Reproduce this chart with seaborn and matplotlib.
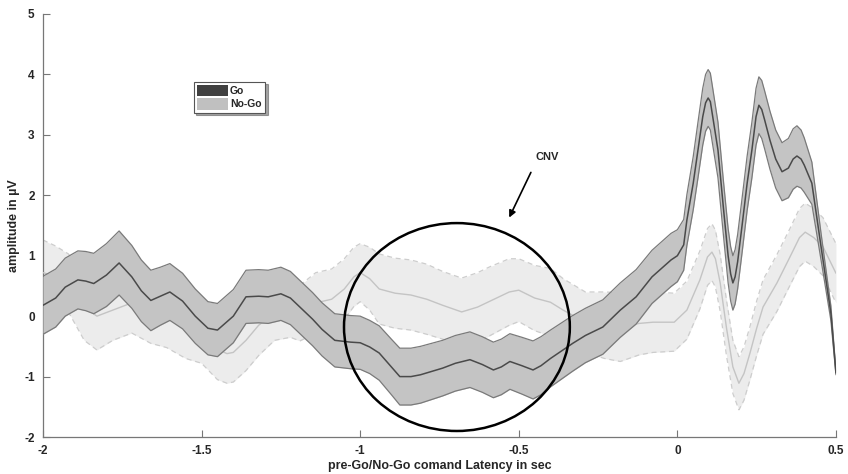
import numpy as np
import pandas as pd
import matplotlib
matplotlib.use("Agg")
import matplotlib.pyplot as plt
from matplotlib.patches import Ellipse, Patch
import seaborn as sns

# Go condition: latency (s), mean amplitude (µV), half-width of the error band
go_time = [-2.00, -1.96, -1.93, -1.89, -1.865, -1.84, -1.80, -1.76, -1.72, -1.69,
           -1.66, -1.63, -1.60, -1.56, -1.52, -1.48, -1.45, -1.40, -1.36, -1.32,
           -1.29, -1.25, -1.22, -1.19, -1.15, -1.12, -1.08, -1.03, -1.00, -0.97,
           -0.94, -0.90, -0.875, -0.84, -0.81, -0.74, -0.70, -0.654, -0.615, -0.58,
           -0.555, -0.528, -0.49, -0.455, -0.43, -0.40, -0.33, -0.29, -0.235, -0.18,
           -0.13, -0.08, -0.02, 0.00, 0.02, 0.03, 0.05, 0.065, 0.08, 0.089,
           0.097, 0.104, 0.11, 0.128, 0.145, 0.16, 0.168, 0.175, 0.182, 0.19,
           0.204, 0.22, 0.235, 0.248, 0.257, 0.266, 0.275, 0.292, 0.31, 0.33,
           0.35, 0.365, 0.377, 0.39, 0.40, 0.424, 0.453, 0.484, 0.50]
go_mean = [0.18, 0.30, 0.48, 0.60, 0.58, 0.54, 0.68, 0.88, 0.65, 0.42,
           0.26, 0.33, 0.40, 0.25, 0.00, -0.20, -0.23, 0.00, 0.32, 0.33,
           0.32, 0.37, 0.30, 0.15, -0.05, -0.22, -0.40, -0.43, -0.44, -0.51,
           -0.61, -0.85, -1.00, -1.00, -0.97, -0.86, -0.78, -0.72, -0.80, -0.89,
           -0.84, -0.75, -0.82, -0.89, -0.82, -0.70, -0.45, -0.32, -0.18, 0.10,
           0.32, 0.65, 0.93, 1.00, 1.18, 1.59, 2.20, 2.75, 3.30, 3.53,
           3.61, 3.55, 3.35, 2.75, 1.80, 1.00, 0.70, 0.55, 0.65, 0.90,
           1.50, 2.20, 2.75, 3.30, 3.49, 3.42, 3.25, 2.91, 2.60, 2.39,
           2.45, 2.60, 2.65, 2.60, 2.50, 2.20, 1.15, 0.05, -0.94]
go_err = [0.48, 0.48, 0.48, 0.48, 0.49, 0.50, 0.52, 0.53, 0.52, 0.51,
          0.50, 0.48, 0.47, 0.46, 0.45, 0.44, 0.44, 0.44, 0.44, 0.44,
          0.44, 0.44, 0.44, 0.44, 0.44, 0.44, 0.44, 0.44, 0.44, 0.44,
          0.45, 0.46, 0.47, 0.47, 0.47, 0.46, 0.46, 0.46, 0.46, 0.46,
          0.46, 0.46, 0.47, 0.48, 0.48, 0.47, 0.46, 0.45, 0.45, 0.45,
          0.45, 0.44, 0.44, 0.43, 0.42, 0.42, 0.44, 0.46, 0.47, 0.47,
          0.47, 0.47, 0.47, 0.46, 0.45, 0.45, 0.45, 0.45, 0.45, 0.45,
          0.45, 0.45, 0.46, 0.47, 0.47, 0.48, 0.48, 0.48, 0.48, 0.48,
          0.49, 0.50, 0.50, 0.48, 0.45, 0.35, 0.22, 0.12, 0.03]

# No-Go condition
nogo_time = [-2.00, -1.96, -1.92, -1.87, -1.83, -1.78, -1.72, -1.66, -1.61, -1.55,
             -1.50, -1.45, -1.42, -1.40, -1.36, -1.32, -1.27, -1.22, -1.19, -1.14,
             -1.09, -1.05, -1.02, -1.00, -0.97, -0.94, -0.89, -0.84, -0.79, -0.74,
             -0.68, -0.63, -0.59, -0.53, -0.50, -0.45, -0.40, -0.36, -0.29, -0.23,
             -0.18, -0.12, -0.077, -0.01, 0.03, 0.071, 0.095, 0.109, 0.12, 0.135,
             0.155, 0.175, 0.194, 0.21, 0.229, 0.25, 0.27, 0.314, 0.355, 0.385,
             0.403, 0.43, 0.459, 0.50]
nogo_mean = [0.72, 0.66, 0.55, 0.15, 0.00, 0.10, 0.22, 0.10, -0.02, -0.15,
             -0.25, -0.55, -0.62, -0.60, -0.40, -0.15, 0.05, 0.10, 0.05, 0.22,
             0.28, 0.45, 0.65, 0.72, 0.62, 0.45, 0.38, 0.35, 0.28, 0.18,
             0.07, 0.15, 0.25, 0.40, 0.43, 0.30, 0.23, 0.10, -0.10, -0.15,
             -0.18, -0.12, -0.10, -0.10, 0.10, 0.60, 0.98, 1.06, 0.95, 0.55,
             -0.20, -0.84, -1.11, -0.95, -0.61, -0.20, 0.15, 0.55, 0.98, 1.30,
             1.39, 1.30, 1.15, 0.71]
nogo_err = [0.54, 0.50, 0.48, 0.55, 0.56, 0.50, 0.50, 0.55, 0.50, 0.55,
            0.53, 0.50, 0.49, 0.49, 0.50, 0.50, 0.45, 0.45, 0.46, 0.50,
            0.50, 0.50, 0.49, 0.48, 0.52, 0.58, 0.58, 0.58, 0.58, 0.56,
            0.56, 0.57, 0.57, 0.55, 0.52, 0.54, 0.56, 0.52, 0.50, 0.55,
            0.57, 0.52, 0.50, 0.48, 0.48, 0.48, 0.47, 0.47, 0.47, 0.47,
            0.46, 0.44, 0.44, 0.44, 0.44, 0.45, 0.45, 0.47, 0.47, 0.48,
            0.48, 0.48, 0.48, 0.49]

x_ticks = [-2, -1.5, -1, -0.5, 0, 0.5]
x_tick_labels = ["-2", "-1.5", "-1", "-0.5", "0", "0.5"]
y_ticks = [-2, -1, 0, 1, 2, 3, 4, 5]
y_tick_labels = ["-2", "-1", "0", "1", "2", "3", "4", "5"]

go = pd.DataFrame({"t": go_time, "amp": go_mean, "err": go_err})
nogo = pd.DataFrame({"t": nogo_time, "amp": nogo_mean, "err": nogo_err})

sns.set_theme(style="ticks")
plt.rcParams["font.family"] = ["Liberation Sans", "DejaVu Sans"]
plt.rcParams["font.weight"] = "bold"
plt.rcParams["axes.unicode_minus"] = False
plt.rcParams["lines.solid_joinstyle"] = "round"
plt.rcParams["lines.dash_joinstyle"] = "round"

fig = plt.figure(figsize=(8.48, 4.74), dpi=100)
ax = fig.add_axes([0.0507, 0.078, 0.9351, 0.8925])

# No-Go band (light, dashed edges) drawn underneath
ax.fill_between(nogo["t"], nogo["amp"] - nogo["err"], nogo["amp"] + nogo["err"],
                color="#ececec", lw=0, zorder=1)
ax.plot(nogo["t"], nogo["amp"] + nogo["err"], color="#cdcdcd", lw=0.9, ls=(0, (4, 3)), zorder=2)
ax.plot(nogo["t"], nogo["amp"] - nogo["err"], color="#cdcdcd", lw=0.9, ls=(0, (4, 3)), zorder=2)
sns.lineplot(data=nogo, x="t", y="amp", color="#c4c4c4", lw=1.0, ax=ax, zorder=3,
             estimator=None, sort=False)

# Go band on top
ax.fill_between(go["t"], go["amp"] - go["err"], go["amp"] + go["err"],
                color="#c4c4c4", lw=0, zorder=4)
ax.plot(go["t"], go["amp"] + go["err"], color="#7a7a7a", lw=0.9, zorder=5)
ax.plot(go["t"], go["amp"] - go["err"], color="#7a7a7a", lw=0.9, zorder=5)
sns.lineplot(data=go, x="t", y="amp", color="#4a4a4a", lw=1.1, ax=ax, zorder=6,
             estimator=None, sort=False)

# CNV highlight
ax.add_patch(Ellipse((-0.695, -0.18), 0.712, 3.44, fill=False, ec="black", lw=1.8, zorder=8))
ax.annotate("", xy=(-0.534, 1.59), xytext=(-0.458, 2.42),
            arrowprops=dict(arrowstyle="-|>", color="black", lw=1.2, mutation_scale=10),
            zorder=9)
ax.text(-0.41, 2.63, "CNV", ha="center", va="center", fontsize=8, fontweight="bold")

ax.set_xlim(-2, 0.5)
ax.set_ylim(-2, 5)
ax.set_xticks(x_ticks)
ax.set_xticklabels(x_tick_labels)
ax.set_yticks(y_ticks)
ax.set_yticklabels(y_tick_labels)
ax.tick_params(direction="in", length=5, width=0.8, color="#777777",
               labelsize=8.5, pad=6)
for lab in ax.get_xticklabels() + ax.get_yticklabels():
    lab.set_fontweight("bold")
for side in ["top", "right"]:
    ax.spines[side].set_visible(False)
for side in ["left", "bottom"]:
    ax.spines[side].set_color("#777777")
    ax.spines[side].set_linewidth(0.9)

ax.set_xlabel("pre-Go/No-Go comand Latency in sec", fontsize=9, fontweight="bold", labelpad=2)
ax.set_ylabel("amplitude in µV", fontsize=9, fontweight="bold", labelpad=3)

handles = [Patch(facecolor="#404040", edgecolor="none", label="Go"),
           Patch(facecolor="#c0c0c0", edgecolor="none", label="No-Go")]
leg = ax.legend(handles=handles, loc="upper left", bbox_to_anchor=(0.19, 0.84),
                fontsize=7.5, frameon=True, fancybox=False, shadow=True,
                handlelength=3.0, handleheight=1.3, handletextpad=0.2,
                borderpad=0.3, labelspacing=0.2, borderaxespad=0)
leg.get_frame().set_edgecolor("#555555")
leg.get_frame().set_linewidth(0.8)
for txt in leg.get_texts():
    txt.set_fontweight("bold")

fig.savefig("out.png", dpi=100)
